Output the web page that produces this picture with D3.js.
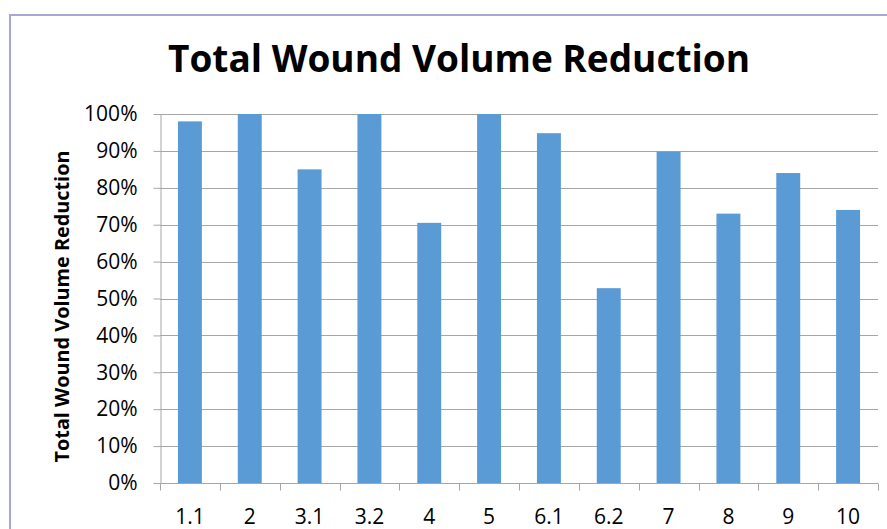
<!DOCTYPE html>
<html>
<head>
<meta charset="utf-8">
<script src="https://cdn.jsdelivr.net/npm/d3@7"></script>
<style>
  html, body { margin: 0; padding: 0; background: #fff; }
  svg { display: block; }
</style>
</head>
<body>
<div id="chart"></div>
<script>
// Chart data
const categories = ["1.1", "2", "3.1", "3.2", "4", "5", "6.1", "6.2", "7", "8", "9", "10"];
const reduction = [0.98, 1.00, 0.85, 1.00, 0.705, 1.00, 0.948, 0.528, 0.898, 0.73, 0.84, 0.74];
const yTicks = [0, 0.1, 0.2, 0.3, 0.4, 0.5, 0.6, 0.7, 0.8, 0.9, 1.0];

const width = 887;
const height = 529;
const margin = { top: 114, right: 9, bottom: 46, left: 160 };
const font = "'Open Sans', 'Liberation Sans', sans-serif";

const svg = d3.select("#chart")
  .append("svg")
  .attr("width", width)
  .attr("height", height);

// Outer chart border (only top and left edges are in view)
svg.append("path")
  .attr("d", `M10,${height} L10,15 L${width},15`)
  .attr("fill", "none")
  .attr("stroke", "#a9a7d3")
  .attr("stroke-width", 2);

// Title
svg.append("text")
  .attr("x", 459)
  .attr("y", 72)
  .attr("text-anchor", "middle")
  .attr("font-family", font)
  .attr("font-weight", "bold")
  .attr("font-size", 38)
  .attr("textLength", 582)
  .attr("lengthAdjust", "spacingAndGlyphs")
  .text("Total Wound Volume Reduction");

const x = d3.scaleBand()
  .domain(categories)
  .range([margin.left, width - margin.right])
  .paddingInner(0.6)
  .paddingOuter(0.3);

const y = d3.scaleLinear()
  .domain([0, 1])
  .range([height - margin.bottom, margin.top]);

// Gridlines
svg.append("g")
  .selectAll("line")
  .data(yTicks.slice(1))
  .join("line")
  .attr("x1", margin.left)
  .attr("x2", width - margin.right)
  .attr("y1", d => Math.round(y(d)) + 0.5)
  .attr("y2", d => Math.round(y(d)) + 0.5)
  .attr("stroke", "#a6a6a6")
  .attr("stroke-width", 1);

// Bars
svg.append("g")
  .selectAll("rect")
  .data(categories)
  .join("rect")
  .attr("x", (d, i) => x(d))
  .attr("width", x.bandwidth())
  .attr("y", (d, i) => y(reduction[i]))
  .attr("height", (d, i) => y(0) - y(reduction[i]))
  .attr("fill", "#5b9bd5");

// Y axis
const yAxis = svg.append("g")
  .attr("transform", `translate(${margin.left + 0.5},0)`)
  .call(d3.axisLeft(y)
    .tickValues(yTicks)
    .tickFormat(d3.format(".0%"))
    .tickSizeInner(7)
    .tickSizeOuter(0)
    .tickPadding(16));

// X axis: ticks sit on the band boundaries
const xAxis = svg.append("g")
  .attr("transform", `translate(0,${Math.round(y(0)) + 0.5})`);

xAxis.append("line")
  .attr("x1", margin.left)
  .attr("x2", width - margin.right)
  .attr("stroke", "#a6a6a6");

const boundaries = d3.range(categories.length + 1).map(i => margin.left + i * (width - margin.left - margin.right) / categories.length);
xAxis.selectAll("line.tick")
  .data(boundaries)
  .join("line")
  .attr("class", "tick")
  .attr("x1", d => Math.round(d) + 0.5)
  .attr("x2", d => Math.round(d) + 0.5)
  .attr("y1", 0)
  .attr("y2", 7)
  .attr("stroke", "#a6a6a6");

xAxis.selectAll("text")
  .data(categories)
  .join("text")
  .attr("x", d => x(d) + x.bandwidth() / 2)
  .attr("y", 40)
  .attr("text-anchor", "middle")
  .attr("font-family", font)
  .attr("font-size", 21)
  .attr("fill", "#000")
  .text(d => d);

yAxis.selectAll(".domain, .tick line").attr("stroke", "#a6a6a6");
yAxis.selectAll(".tick text")
  .attr("font-family", font)
  .attr("font-size", 21)
  .attr("fill", "#000");

// Y axis title
svg.append("text")
  .attr("transform", `translate(69,${(margin.top + height - margin.bottom) / 2 + 8}) rotate(-90)`)
  .attr("text-anchor", "middle")
  .attr("font-family", font)
  .attr("font-weight", "bold")
  .attr("font-size", 19)
  .attr("textLength", 312)
  .attr("lengthAdjust", "spacingAndGlyphs")
  .text("Total Wound Volume Reduction");
</script>
</body>
</html>
